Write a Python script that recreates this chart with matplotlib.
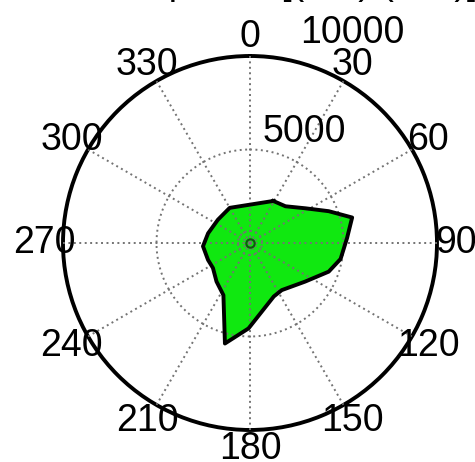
import numpy as np
import matplotlib.pyplot as plt

plt.rcParams['font.family'] = ['Liberation Sans', 'DejaVu Sans']

# polygon vertices (degrees clockwise from north, radius)
theta_deg = [29, 44, 58, 68, 76, 87, 100, 110, 125, 146, 156, 181, 194,
             207, 221, 236, 248, 266, 283, 306, 330]
radius = [2570, 2730, 3500, 4540, 5630, 5200, 4920, 4480, 3600, 3040, 3130,
          4570, 5540, 3130, 2730, 2390, 2420, 2520, 2300, 2120, 2170]

r_max = 10000
ring_values = [5000]
small_rings = [650]
spoke_angles = [0, 30, 60, 90, 120, 150, 180, 210, 240, 270, 300, 330]
angle_labels = ['0', '30', '60', '90', '120', '150', '180', '210', '240', '270', '300', '330']
r_labels = ['5000', '10000']
r_label_pos = [6600, 12500]
title_text = 'Wind power [(kW) (m/s)]'

fig = plt.figure(figsize=(4.75, 4.62), dpi=100)
ax = fig.add_axes([0.1326, 0.0693, 0.7874, 0.8095], projection='polar')
ax.set_theta_zero_location('N')
ax.set_theta_direction(-1)
ax.set_ylim(0, r_max)
ax.set_xticks([])
ax.set_yticks([])
ax.grid(False)
ax.spines['polar'].set_linewidth(2.8)
ax.spines['polar'].set_color('black')

th = np.deg2rad(theta_deg)
ax.fill(th, radius, color='#10e810', zorder=2)
ax.plot(np.append(th, th[0]), radius + [radius[0]], color='black', lw=2.8, zorder=4)

# grid: dotted spokes and rings, drawn over the fill
dot = (0, (1, 1.8))
circ = np.linspace(0, 2 * np.pi, 361)
for a in spoke_angles:
    ax.plot([np.deg2rad(a)] * 2, [0, r_max], color='0.45', lw=1.4, ls=dot, zorder=3)
for rv in ring_values + small_rings:
    ax.plot(circ, np.full_like(circ, rv), color='0.45', lw=1.4, ls=dot, zorder=3)
ax.plot([0], [0], 'o', ms=6, mfc='none', mec='#115511', mew=1.5, zorder=3)

for a, lab in zip(spoke_angles, angle_labels):
    ax.text(np.deg2rad(a), 1.1 * r_max, lab, ha='center', va='center',
            fontsize=27, clip_on=False, zorder=5)
for lab, rp in zip(r_labels, r_label_pos):
    ax.text(np.deg2rad(26), rp, lab, ha='center', va='center',
            fontsize=27, clip_on=False, zorder=5)

# title sits mostly above the top edge, as in the cropped original
fig.text(0.58, 1.0 + 6 / 462, title_text, ha='center', va='baseline', fontsize=27)

fig.savefig('out.png', dpi=100)
